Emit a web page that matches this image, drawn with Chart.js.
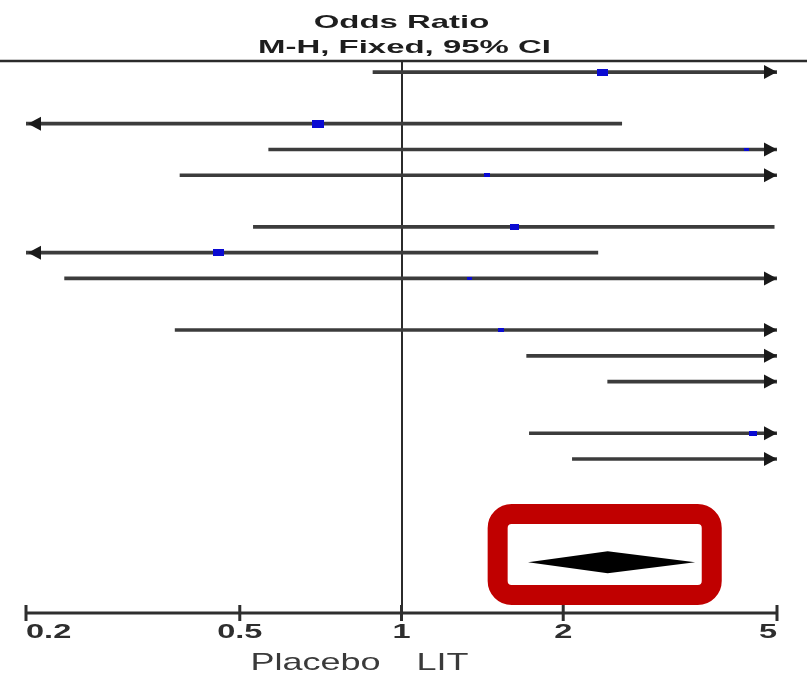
<!DOCTYPE html>
<html>
<head>
<meta charset="utf-8">
<script src="https://cdn.jsdelivr.net/npm/chart.js@4.4.1/dist/chart.umd.min.js"></script>
<style>
  html, body { margin: 0; padding: 0; background: #fff; }
  #wrap { width: 807px; height: 679px; }
</style>
</head>
<body>
<div id="wrap"><canvas id="forest"></canvas></div>
<script>
// study rows, top to bottom (missing numbers are empty rows)
const rows = [0, 2, 3, 4, 6, 7, 8, 10, 11, 12, 14, 15]
const oddsRatio = [2.37, 0.70, 4.39, 1.44, 1.62, 0.457, 1.34, 1.53, 7.5, 9.0, 4.52, 8.0]
const lowerCI = [0.885, 0.12, 0.566, 0.387, 0.53, 0.13, 0.236, 0.379, 1.71, 2.42, 1.73, 2.08]
const upperCI = [8.5, 2.57, 30, 6.2, 4.94, 2.32, 7.4, 6.5, 35, 40, 12, 30]
const weights = [14, 16, 3, 5, 8, 13, 2, 4, 1, 1, 7, 1]

// pooled estimate: lower, OR, upper
const pooledRow = 19
const pooled = [1.72, 2.42, 3.52]

const tickValues = [0.2, 0.5, 1, 2, 5]
const tickLabels = ['0.2', '0.5', '1', '2', '5']
const titleLines = ['Odds Ratio', 'M-H, Fixed, 95% CI']
const sideLabels = ['Placebo', 'LIT']

// box drawn round the pooled diamond (data units)
const highlight = { from: 1.51, to: 3.78, rowTop: 17.13, rowBottom: 20.27 }

// the source picture is stretched sideways, so text is drawn wide
function wideText(ctx, text, x, y, align, sx) {
  ctx.save()
  ctx.translate(x, y)
  ctx.scale(sx, 1)
  ctx.textAlign = align
  ctx.fillText(text, 0, 0)
  ctx.restore()
}

function squareFor(w) {
  const h = Math.max(3, Math.round(2 * Math.sqrt(w)))
  const c = document.createElement('canvas')
  c.width = Math.round(h * 1.55)
  c.height = h
  const g = c.getContext('2d')
  g.fillStyle = '#0a0ad2'
  g.fillRect(0, 0, c.width, c.height)
  return c
}

function arrowHead(ctx, tipX, y, dir) {
  ctx.beginPath()
  ctx.moveTo(tipX, y)
  ctx.lineTo(tipX - dir * 13, y - 7)
  ctx.lineTo(tipX - dir * 13, y + 7)
  ctx.closePath()
  ctx.fill()
}

const forestDecor = {
  id: 'forestDecor',
  beforeDatasetsDraw(chart) {
    const { ctx, chartArea: a, scales: { x } } = chart
    ctx.save()
    ctx.strokeStyle = '#2b2b2b'
    ctx.lineWidth = 2.5
    ctx.beginPath(); ctx.moveTo(0, a.top); ctx.lineTo(chart.width, a.top); ctx.stroke()
    const x1 = Math.round(x.getPixelForValue(1))
    ctx.lineWidth = 2
    ctx.beginPath(); ctx.moveTo(x1, a.top); ctx.lineTo(x1, a.bottom); ctx.stroke()
    ctx.restore()
  },
  afterDatasetsDraw(chart) {
    const { ctx, chartArea: a, scales: { x, y } } = chart
    ctx.save()
    ctx.fillStyle = '#1a1a1a'
    rows.forEach((r, i) => {
      const py = y.getPixelForValue(r)
      if (upperCI[i] > x.max) arrowHead(ctx, a.right, py, 1)
      if (lowerCI[i] < x.min) arrowHead(ctx, a.left + 2, py, -1)
    })

    // pooled diamond
    const dy = y.getPixelForValue(pooledRow)
    const half = 11
    ctx.fillStyle = '#000'
    ctx.beginPath()
    ctx.moveTo(x.getPixelForValue(pooled[0]), dy)
    ctx.lineTo(x.getPixelForValue(pooled[1]), dy - half)
    ctx.lineTo(x.getPixelForValue(pooled[2]), dy)
    ctx.lineTo(x.getPixelForValue(pooled[1]), dy + half)
    ctx.closePath()
    ctx.fill()

    // red highlight box
    const bx0 = x.getPixelForValue(highlight.from)
    const bx1 = x.getPixelForValue(highlight.to)
    const by0 = y.getPixelForValue(highlight.rowTop)
    const by1 = y.getPixelForValue(highlight.rowBottom)
    ctx.strokeStyle = '#c00000'
    ctx.lineWidth = 20
    ctx.beginPath()
    ctx.roundRect(bx0, by0, bx1 - bx0, by1 - by0, 14)
    ctx.stroke()

    // x axis with ticks
    ctx.strokeStyle = '#2e2e2e'
    ctx.lineWidth = 3
    const ay = a.bottom
    ctx.beginPath(); ctx.moveTo(a.left, ay); ctx.lineTo(a.right, ay); ctx.stroke()
    ctx.fillStyle = '#2e2e2e'
    ctx.font = 'bold 21px "Liberation Sans", Arial, sans-serif'
    ctx.textBaseline = 'alphabetic'
    tickValues.forEach((v, i) => {
      const px = x.getPixelForValue(v)
      ctx.beginPath(); ctx.moveTo(px, ay - 8); ctx.lineTo(px, ay + 8); ctx.stroke()
      const align = i === 0 ? 'left' : (i === tickValues.length - 1 ? 'right' : 'center')
      wideText(ctx, tickLabels[i], px, ay + 25, align, 1.55)
    })

    const x1 = x.getPixelForValue(1)
    ctx.fillStyle = '#3a3a3a'
    ctx.font = '24px "Liberation Sans", Arial, sans-serif'
    wideText(ctx, sideLabels[0], x1 - 21, ay + 57, 'right', 1.5)
    wideText(ctx, sideLabels[1], x1 + 15, ay + 57, 'left', 1.5)

    // title above the top rule
    ctx.fillStyle = '#1e1e1e'
    ctx.font = 'bold 18.5px "Liberation Sans", Arial, sans-serif'
    const cx = (a.left + a.right) / 2
    wideText(ctx, titleLines[0], cx, 28, 'center', 1.78)
    wideText(ctx, titleLines[1], cx + 3, 53, 'center', 1.78)
    ctx.restore()
  }
}

const ctx = document.getElementById('forest').getContext('2d')
const chart = new Chart(ctx, {
  type: 'bar',
  data: {
    datasets: [
      {
        type: 'scatter',
        data: rows.map((r, i) => ({ x: oddsRatio[i], y: r })),
        pointStyle: weights.map(squareFor),
        pointRadius: 3,
        order: 0
      },
      {
        type: 'bar',
        data: rows.map((r, i) => ({ x: [lowerCI[i], upperCI[i]], y: r })),
        backgroundColor: '#3c3c3c',
        barThickness: 3,
        order: 1
      }
    ]
  },
  options: {
    indexAxis: 'y',
    responsive: true,
    maintainAspectRatio: false,
    animation: false,
    layout: { padding: { top: 61, bottom: 66, left: 26, right: 30 } },
    scales: {
      x: { type: 'logarithmic', min: 0.2, max: 5, display: false, offset: false },
      y: { type: 'linear', min: -0.43, max: 20.97, reverse: true, display: false, offset: false }
    },
    plugins: {
      legend: { display: false },
      title: { display: false },
      tooltip: { enabled: false }
    }
  },
  plugins: [forestDecor]
})
</script>
</body>
</html>
